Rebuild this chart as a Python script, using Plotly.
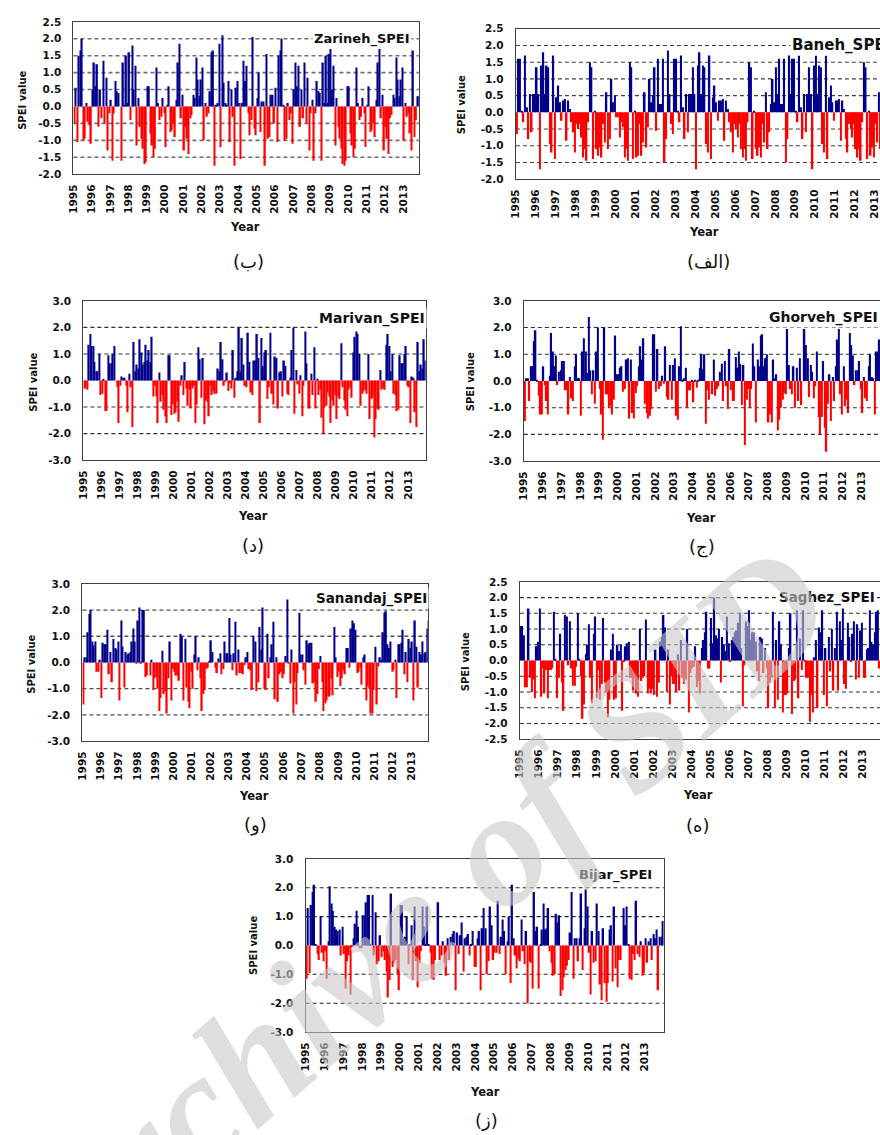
import plotly.graph_objects as go

# ---------------- data ----------------
years = list(range(1995, 2014))
year_labels = [str(y) for y in years]

zarineh_spei = [
    -0.5, 0.55, -1.05, 1.5, 1.65, 2.0, -1.0, -0.95, 0.1, -0.45, -0.55, -1.1,
    0.5, 1.3, 0.6, 1.25, -0.6, 0.5, -0.35, 1.35, -0.5, 0.85, -1.3, -0.2,
    0.2, -1.6, -0.2, 0.75, 0.45, 0.4, 0.0, -1.6, 1.3, 0.05, 1.5, 0.1,
    1.6, -0.4, 1.8, 0.5, 1.2, -1.15, 0.25, -0.6, -0.95, -1.25, -1.7, -1.65,
    0.6, 0.6, -0.8, -1.15, -1.5, -1.25, 1.15, 0.1, -0.4, -0.3, 0.25, -0.2,
    -1.2, 0.05, 0.6, -0.75, -0.7, -0.5, -0.9, 0.2, 1.3, 1.85, -0.35, 0.35,
    -1.3, -0.6, -0.95, -1.4, -0.35, -0.25, 0.35, 0.25, 1.45, 0.8, 0.3, 0.8,
    1.15, -1.0, 0.1, -0.3, -0.2, 0.45, 1.6, 1.65, -1.75, 0.05, 0.1, 1.85,
    -1.2, 2.1, 0.7, 0.1, 0.05, 0.75, -1.05, 0.5, -0.3, -1.75, 0.55, 0.75,
    0.1, -1.55, 0.1, 1.35, 0.75, 1.2, -0.2, -0.85, -0.4, 2.05, -0.65, -0.85,
    0.25, 1.0, -0.75, 0.15, 0.15, -1.75, 1.55, -0.95, -0.9, 0.35, 0.35, -0.5,
    0.55, -1.05, 1.5, 1.65, 2.0, 0.05, -1.0, -0.95, 0.1, -0.4, -0.2, -1.1,
    0.5, 1.3, 0.6, 1.2, -0.6, 0.5, -0.35, 1.3, -0.5, 0.85, -1.3, -0.2,
    0.2, -1.6, -0.2, 0.75, 0.45, 0.4, -1.6, 1.3, 0.1, 1.5, 0.1, 1.55,
    1.7, 0.5, 1.2, -1.15, 0.25, -0.6, -0.95, -1.25, -1.7, -1.75, -1.6, 0.6,
    0.6, -0.8, -1.15, -1.5, -1.25, 1.15, 0.1, -0.4, -0.3, 0.25, -0.2, -1.2,
    0.05, 0.6, -0.75, -0.7, -0.5, -0.9, 0.2, 1.3, 1.7, -0.35, 0.35, -1.3,
    -0.6, -0.95, -1.4, -0.35, -0.25, 0.35, 0.25, 1.45, 0.8, 0.3, 0.8, 1.15,
    -1.0, 0.1, -0.3, -0.2, -0.8, -1.3, 1.65, -0.9, -0.4, 0.3, 0.3, 1.85,
]

baneh_spei = [
    -0.65, 1.6, 1.6, 0.05, -0.3, 1.7, 0.15, -0.8, 0.55, -0.6, 0.55, 0.55,
    1.35, 0.55, -1.7, 1.4, 1.8, 0.55, 1.4, 1.35, -0.95, -1.2, 1.7, -1.4,
    0.45, 0.8, 0.3, -0.25, 0.35, 0.4, -0.85, 0.35, 0.1, -0.3, -0.6, -1.2,
    -0.35, -0.5, -0.35, -0.75, -1.35, -1.1, -1.45, -0.3, 1.5, 1.35, -1.4, 0.05,
    -1.1, -1.3, -1.05, -1.35, -0.35, -0.9, 0.6, -1.1, -0.8, 1.0, 0.3, 0.5,
    -0.15, -0.15, -0.75, -0.3, -0.45, -1.35, -1.1, -1.45, 1.5, 1.35, -1.4, 0.05,
    -1.35, -1.3, -0.35, -1.3, -0.9, 0.6, -1.05, -0.45, 1.0, 0.3, 0.5, 1.35,
    -0.55, 1.6, 0.25, 0.25, 1.6, -1.5, -0.8, 1.85, 0.55, -0.35, -0.65, 1.6,
    1.6, 0.05, -0.3, 1.7, 0.15, -0.8, 0.55, -0.6, 0.55, 0.55, 1.35, 0.55,
    -1.7, 1.4, 1.8, 0.55, 1.4, 1.35, -0.95, -1.2, 1.7, -1.4, 0.45, 0.8,
    0.3, -0.25, 0.35, 0.35, 0.4, -0.85, 0.35, 0.1, -0.3, -0.6, -1.2, -0.35,
    -0.5, -0.75, -0.35, -1.1, -1.35, -1.1, -1.45, -0.3, 1.5, 1.35, -1.4, 0.05,
    -1.1, -1.3, -1.05, -1.35, -0.35, -0.9, 0.6, -1.1, -0.6, 0.25, 1.0, 0.3,
    1.35, 0.55, 1.6, 0.25, 0.25, 1.6, -1.5, -0.8, 1.7, 0.55, 1.6, 1.6,
    0.05, -0.3, 1.7, 0.15, -0.8, 0.55, -0.6, 0.55, 1.35, 0.55, -1.7, 1.4,
    1.7, 0.55, 1.4, 1.35, -0.95, -1.2, 1.7, -1.4, 0.45, 0.8, 0.3, -0.25,
    0.35, 0.35, 0.4, -0.85, 0.35, 0.1, -0.8, -1.2, -0.35, -0.5, -0.75, -0.35,
    -1.1, -1.35, -1.1, -1.45, -0.3, 1.5, 1.35, -1.4, 0.05, -1.3, -1.05, -1.35,
    -0.35, -0.9, 0.6, -1.1, -0.8, 1.0, 0.3, 0.5, -0.15, -0.75, -0.3, -0.45,
]

marivan_spei = [
    -0.3, -0.3, -0.35, 1.35, 1.75, 1.3, 1.3, 0.7, 0.35, 0.35, 1.0, -0.55,
    -0.5, 0.05, -1.15, -1.15, 0.95, 0.65, 0.65, 1.0, 1.3, 0.0, -0.25, -1.6,
    -0.2, 0.15, 0.1, 0.1, -0.2, -1.2, 0.25, -0.25, -1.75, 1.45, 0.35, 0.6,
    0.45, 1.55, 1.05, 0.6, 0.7, 1.35, 0.75, 1.15, 0.7, 1.65, -0.6, -0.2,
    -0.6, -1.6, 0.3, -0.8, -0.55, -1.1, -1.35, -1.6, 0.95, 0.95, -1.3, -0.9,
    -1.25, -1.2, -0.8, -1.55, -0.2, 0.2, -0.55, 0.7, -0.3, -0.95, -0.35, -1.05,
    -0.3, -0.2, -1.6, -0.9, 1.25, 0.8, -0.65, 0.85, -1.65, -0.75, -0.8, -1.35,
    -0.2, -0.55, -0.4, -0.5, -0.5, 0.45, 0.35, 1.45, 0.8, -0.2, -0.05, 0.3,
    -0.4, -0.1, -0.3, 1.15, -0.65, 0.1, 0.35, 2.0, 0.35, 1.6, 0.6, -0.2,
    -0.25, 1.8, 0.7, -0.45, -0.55, 0.75, 0.75, 1.75, 0.85, -1.6, 1.6, 0.55,
    1.05, 1.15, -0.7, -0.25, 1.8, -0.5, -0.9, 0.9, 0.85, -1.05, 0.3, 0.35,
    -0.6, 0.75, 0.55, -0.5, -0.55, 0.1, 1.15, 2.0, -1.25, 0.4, -0.15, -0.5,
    0.2, -1.35, -0.2, 1.85, 0.65, -1.05, -1.05, 0.25, -0.55, 1.25, -1.05, 0.05,
    -0.55, -0.35, -1.4, -2.0, -1.0, -0.95, -0.45, -0.6, -1.6, -0.75, -0.95, -0.55,
    -1.45, -0.6, -0.7, 1.4, -0.25, -0.75, -1.1, -1.35, -0.35, -0.25, -0.65, 1.05,
    1.65, 1.85, 1.75, 1.0, -0.95, -0.5, -0.4, -0.35, -0.5, 1.0, -1.45, -0.7,
    -0.65, -2.15, -1.45, -1.05, -1.1, 0.4, -0.35, -0.3, -0.35, 1.35, 1.75, 1.3,
    0.35, 1.0, -0.5, -0.55, -1.15, -1.1, 0.95, 0.65, 0.65, 1.0, 1.3, -0.2,
    -0.25, -1.6, 0.15, 0.1, -1.2, -1.75, 1.45, 0.35, 0.6, 0.45, 1.55, 0.75,
]

ghorveh_spei = [
    -1.5, 0.1, 0.1, -0.75, 0.55, 0.55, 1.5, 1.9, 0.05, -0.55, -1.25, -1.25,
    0.55, -0.15, -0.75, -1.25, 0.2, 1.8, 1.1, 0.55, 0.95, -0.15, 0.35, 0.4,
    0.75, 0.75, -0.35, -0.35, -1.25, 0.15, -0.65, -0.75, 0.55, 1.0, 0.1, 0.1,
    -1.3, 1.1, 1.6, 1.1, 0.3, 2.4, 0.4, -0.5, 0.4, -0.85, 1.1, 2.0,
    -0.3, -1.25, -2.2, 2.0, -0.5, -0.5, -1.0, -0.95, -1.25, -0.7, 1.7, 0.25,
    0.25, 0.5, 0.55, -0.4, -0.3, 0.8, 0.85, -1.4, 0.8, -1.2, -1.4, -0.45,
    -0.2, 0.55, 1.3, 0.8, 1.6, -0.85, -1.2, -1.4, -1.3, -1.05, 1.75, 1.75,
    -0.4, 1.2, -0.3, -0.2, 0.2, -0.1, 1.3, -0.6, -0.7, 0.6, -0.7, 0.6,
    0.85, -1.3, -1.45, 0.55, 2.05, 0.05, 0.1, 0.5, -1.0, -0.35, -0.35, 0.05,
    -0.8, 0.05, -0.25, 0.05, 0.5, 1.0, 0.45, 1.0, -1.6, -0.35, -0.7, 0.0,
    -0.5, 0.8, -0.55, -0.3, -0.2, 0.35, 0.65, -0.75, 0.75, -0.2, -1.05, 1.2,
    -0.35, -0.75, -0.75, 0.9, 0.5, 1.1, 0.65, -0.9, 0.6, -2.4, -0.7, -0.3,
    -1.0, -0.3, 1.4, 0.55, -1.55, 0.8, 0.55, 1.7, 1.75, 0.55, 0.85, 1.0,
    -1.55, -1.25, -1.55, 0.8, 0.1, 0.25, -1.85, -1.45, -1.0, -0.7, -0.45, -0.5,
    1.95, 0.6, -0.3, -0.5, 0.55, -1.0, 0.5, -0.75, 0.85, -0.9, 0.0, 1.95,
    1.35, 0.85, -0.6, 0.6, 0.35, -0.65, -0.2, 1.1, -1.35, -2.0, -1.35, 0.75,
    -1.75, -2.65, -0.85, 0.25, -1.5, 0.15, -0.75, 0.55, 1.55, 1.95, -0.5, -1.25,
    0.55, -0.95, -0.7, -1.2, 1.8, 1.35, 0.95, -0.15, 0.4, 0.4, 0.75, -0.3,
    -1.2, 0.15, -0.65, -0.75, 0.55, 1.0, 0.15, 0.1, -1.25, 1.1, 1.1, 1.55,
]

sanandaj_spei = [
    -1.6, 0.2, 0.2, 1.15, 1.85, 2.0, 0.8, 0.65, 0.8, -0.35, -0.35, 0.1,
    -1.35, 0.75, 0.7, 0.7, 1.25, -0.45, 0.4, -0.75, 0.9, 0.55, 0.5, 0.8,
    -1.45, 1.6, 0.6, -0.95, 0.4, 0.3, 0.35, 0.4, 0.8, 1.3, 0.8, -0.05,
    1.6, 2.1, -0.05, 2.0, 2.0, -0.55, -0.5, 0.0, -0.5, 0.1, -1.05, -0.6,
    -0.55, -1.0, -1.85, -1.35, 0.45, -1.2, -1.1, -1.95, -0.6, 0.8, -1.45, -0.25,
    -0.35, -0.5, -0.5, -0.7, 1.1, 1.0, -1.45, 0.9, -0.95, -1.5, -1.75, -0.35,
    -1.0, 0.3, 1.0, -0.3, 0.2, -0.6, -1.85, -1.2, -1.05, -0.25, -0.2, 0.05,
    0.85, 0.4, 0.0, -0.2, -0.4, 0.15, 0.35, -0.45, -0.25, 0.8, 0.35, 0.35,
    1.7, 0.3, -0.3, 0.35, 1.55, -0.5, 0.5, -0.4, -0.4, -0.45, -0.1, 0.2,
    0.4, -0.25, -0.3, -1.05, 1.0, 0.8, -1.1, -0.75, 1.35, 0.5, 2.1, -1.0,
    -1.05, 1.1, -0.6, 0.2, 0.7, 1.55, -1.4, 0.2, -1.5, -0.45, -0.35, -0.6,
    -0.45, 0.25, 2.4, -0.05, -0.8, 0.5, -1.95, -0.75, -1.6, -0.4, 1.9, 0.3,
    0.3, -0.3, -0.85, 0.85, 0.7, 0.75, 0.75, -0.8, -0.75, -1.5, -1.2, -0.25,
    0.25, -0.75, -1.85, -1.55, -1.45, -1.3, -1.3, -0.6, -1.25, 1.35, 0.2, -0.55,
    -0.35, -0.9, -0.6, -0.3, -0.45, 0.55, 0.55, -0.2, 1.3, 1.6, 1.5, 1.25,
    -0.4, -0.35, -0.2, -0.85, 0.2, 0.3, -1.45, -0.9, -1.0, -1.95, -1.95, -1.05,
    0.6, -1.6, -0.15, 0.2, 0.1, 1.15, 1.9, 1.95, 0.7, 0.55, 0.8, -0.35,
    -0.3, 0.1, -1.35, 0.7, 0.7, 0.75, 1.25, -0.45, 0.4, -0.75, 0.9, 0.55,
    0.8, -1.45, 1.6, 0.6, -0.95, 0.4, 0.3, 0.8, 0.35, 0.4, 1.3, 1.6,
]

saghez_spei = [
    1.1, 1.1, 0.8, -0.85, -0.85, 1.65, -0.55, -1.0, -0.6, -1.2, 0.45, 0.6,
    1.65, -1.15, -0.25, -1.05, -0.3, -1.2, -0.3, -0.3, -0.25, 1.55, 0.05, -1.2,
    -0.55, 0.85, -0.7, -1.6, 1.45, 1.4, -0.15, 1.25, -0.25, -0.8, -0.8, -0.2,
    1.5, 0.05, -0.5, -1.85, -1.4, 0.2, 0.5, 1.15, -0.55, -1.35, 0.85, 1.4,
    -1.2, -0.3, -1.25, -0.75, 1.35, -0.7, -1.0, -1.8, -1.25, 0.35, 0.85, -1.25,
    -1.2, 0.5, 0.3, 0.5, -1.6, -0.05, 0.45, 0.55, 0.6, -0.55, -0.55, -0.95,
    -0.55, -1.05, -1.15, 1.0, -0.65, -0.55, -0.5, 1.3, -1.05, -0.9, -1.05, -0.9,
    -1.1, 0.35, -1.15, -0.7, 0.6, 0.75, 1.45, 1.05, -1.0, 0.35, -1.4, -0.5,
    -0.75, -0.75, -1.0, 0.2, -0.95, 0.65, -0.55, -0.75, -0.6, 1.0, -1.65, -0.4,
    -0.25, -0.2, 0.45, -0.85, -0.65, -1.05, 0.4, 0.65, 0.9, 1.55, -0.25, -0.25,
    1.35, 0.55, 2.0, 0.8, 0.7, 1.0, -0.7, 0.75, 0.5, 0.3, 1.4, 0.55,
    -0.05, 0.65, 0.75, 0.9, 0.95, 1.2, 1.5, 0.4, -1.45, -0.15, 1.25, 1.1,
    1.6, 0.65, 0.9, 0.9, 0.6, -0.35, -0.65, 0.75, 0.7, -0.4, 0.4, -0.25,
    -1.5, -0.7, -0.55, 1.55, -1.5, 0.65, -1.25, 1.25, 0.5, -1.65, -1.1, -1.1,
    -1.05, 0.4, 1.5, -1.7, -0.65, -0.6, 1.6, -1.2, 0.7, -0.3, 1.6, -0.05,
    -0.55, -0.55, -1.95, -1.1, -1.65, 0.1, 0.65, -1.5, 1.05, 0.9, 1.6, -1.1,
    0.4, -1.45, 0.75, -0.35, 1.0, -0.95, 0.4, 1.55, -0.95, 1.25, 0.65, 1.65,
    -0.75, -0.9, 1.2, 0.75, -0.05, 0.85, 1.25, -0.6, 1.15, -0.55, 0.95, 1.2,
    -0.55, -0.55, 0.35, 0.4, 1.6, 0.6, 0.5, 0.9, 1.55, 1.6, -0.25, -0.2,
]

bijar_spei = [
    -1.15, 1.3, -0.95, 1.4, 1.85, 2.1, 0.05, -0.3, -0.5, 1.0, -0.25, -0.55,
    -0.2, -1.15, 0.15, 2.05, 1.45, 1.2, 0.65, 0.55, 0.5, 0.55, -0.35, 0.65,
    -0.3, -1.5, -0.55, -0.35, -1.7, -0.05, 0.25, 0.75, 1.2, 0.65, -0.1, -0.1,
    1.05, 1.05, 1.5, 1.75, 1.75, 0.05, 1.75, -0.35, 1.15, -0.65, -0.55, 0.35,
    -0.4, -0.2, -0.5, -0.9, -1.8, -1.2, 1.8, -0.75, -0.6, -0.5, -1.0, -1.55,
    1.4, 1.4, 0.25, 0.3, 1.0, -0.65, 0.05, 0.7, -1.2, 1.35, -0.55, -1.45,
    -0.6, -0.2, 1.35, 0.65, 0.05, 1.35, 0.05, -0.25, -1.15, -1.2, -0.5, 0.0,
    1.5, -0.5, -0.35, 0.15, -0.6, -1.05, 0.25, -0.5, 0.3, 0.4, 0.5, -1.55,
    0.45, -0.3, 0.35, 0.8, -0.9, 0.25, 0.3, 0.4, -0.35, 0.05, 0.5, -0.75,
    -0.75, 0.25, 0.5, -1.55, 0.6, 1.3, 0.6, -1.0, -0.55, 1.35, 0.7, -0.5,
    -0.25, -0.25, 1.55, -0.3, 0.3, 0.9, 0.5, -1.0, 0.15, 1.0, -1.3, 2.1,
    0.25, -0.35, -0.8, -0.45, -0.55, 0.9, -0.2, -0.65, 0.5, -2.0, -0.55, -0.6,
    -1.5, 1.85, 0.5, 0.65, -1.5, 0.05, 0.55, 1.45, 0.55, 0.6, 1.3, -0.2,
    -0.6, -1.05, -1.0, 1.1, 0.8, 1.05, -1.75, -1.55, -1.1, -0.85, -0.7, -0.5,
    0.45, 1.85, -1.15, 0.25, 0.25, -0.55, 0.25, 1.8, -0.85, 0.6, 1.95, 1.35,
    -0.25, -1.7, 0.5, -0.6, -0.55, 1.45, 0.5, -1.35, -1.9, 0.6, -1.3, -1.95,
    -1.3, 0.55, 0.7, -1.25, 1.35, -0.8, -1.45, -0.5, -0.5, 0.0, 1.3, 0.7,
    1.35, 0.05, -1.15, -1.2, -0.3, -0.5, 1.55, -0.3, -0.4, 0.15, -1.05, -0.95,
    0.25, -0.6, 0.15, 0.25, -0.5, 0.4, 0.25, 0.55, -1.55, 0.3, 0.3, 0.85,
]

station_names = ["Zarineh_SPEI", "Baneh_SPEI", "Marivan_SPEI", "Ghorveh_SPEI",
                 "Sanandaj_SPEI", "Saghez_SPEI", "Bijar_SPEI"]
panel_labels = ["(ب)", "(الف)", "(د)", "(ج)", "(و)", "(ه)", "(ز)"]
station_values = [zarineh_spei, baneh_spei, marivan_spei, ghorveh_spei,
                  sanandaj_spei, saghez_spei, bijar_spei]

ticks_25 = [-2.0, -1.5, -1.0, -0.5, 0.0, 0.5, 1.0, 1.5, 2.0, 2.5]
ticks_3 = [-3.0, -2.0, -1.0, 0.0, 1.0, 2.0, 3.0]
ticks_s = [-2.5, -2.0, -1.5, -1.0, -0.5, 0.0, 0.5, 1.0, 1.5, 2.0, 2.5]

watermark_text = "Archive of SID"

# ---------------- layout geometry (pixels) ----------------
W, H = 880, 1135
panels = [
    dict(l=67, r=415, t=16, b=170, xend=2013.85, yt=ticks_25,
         grid=[-1.5, -1.0, -0.5, 0.5, 1.0, 1.5, 2.0], gc="#707070", gw=1.6,
         tx=307, ty=33, ts=13, ylx=16, yly=95, yrx=240, yry=223, plx=243, ply=258, box=True),
    dict(l=513, r=880, t=23, b=175, xend=2013.26, yt=ticks_25,
         grid=[-1.5, -1.0, -0.5, 0.5, 1.0, 1.5, 2.0], gc="#404040", gw=1.1,
         tx=789, ty=39, ts=15, ylx=459, yly=100, yrx=703, yry=228, plx=707, ply=258, box=False),
    dict(l=77, r=422, t=298, b=459, xend=2013.97, yt=ticks_3,
         grid=[-2.0, -1.0, 1.0, 2.0], gc="#303030", gw=1.1,
         tx=312, ty=316, ts=14, ylx=27, yly=380, yrx=248, yry=515, plx=248, ply=545, box=True),
    dict(l=521, r=880, t=298, b=460, xend=2013.98, yt=ticks_3,
         grid=[-2.0, -1.0, 1.0, 2.0], gc="#303030", gw=1.1,
         tx=766, ty=315, ts=14, ylx=468, yly=380, yrx=700, yry=517, plx=701, ply=547, box=False),
    dict(l=76, r=424, t=584, b=743, xend=2013.9, yt=ticks_3,
         grid=[-2.0, -1.0, 1.0, 2.0], gc="#505050", gw=1.3,
         tx=309, ty=599, ts=13.5, ylx=25, yly=665, yrx=249, yry=798, plx=250, ply=828, box=True),
    dict(l=517, r=880, t=582, b=741, xend=2013.9, yt=ticks_s,
         grid=[-2.0, -1.5, -1.0, -0.5, 0.5, 1.0, 1.5, 2.0], gc="#303030", gw=1.1,
         tx=776, ty=598, ts=13.5, ylx=463, yly=663, yrx=697, yry=797, plx=697, ply=828, box=False),
    dict(l=301, r=662, t=862, b=1037, xend=2014.0, yt=ticks_3,
         grid=[-2.0, -1.0, 1.0, 2.0], gc="#202020", gw=1.1,
         tx=575, ty=878, ts=13, ylx=249, yly=950, yrx=482, yry=1098, plx=483, ply=1126, box=True),
]

BLUE = "#00008b"
RED = "#ff0000"
FONT = "DejaVu Sans"
AX = "#404040"


def px(x):
    return x / W


def py(y):
    return 1 - y / H


fig = go.Figure()
shapes = []
annotations = []

for i, (name, vals, lab, p) in enumerate(zip(station_names, station_values,
                                              panel_labels, panels), start=1):
    xs = [years[0] + (k + 0.5) / 12 for k in range(len(vals))]
    colors = [BLUE if v >= 0 else RED for v in vals]
    xa = "x" if i == 1 else f"x{i}"
    ya = "y" if i == 1 else f"y{i}"
    fig.add_trace(go.Bar(x=xs, y=vals, marker=dict(color=colors, line=dict(width=0)),
                         xaxis=xa, yaxis=ya, showlegend=False, hoverinfo="x+y"))
    key = "" if i == 1 else str(i)
    fig.layout["xaxis" + key] = dict(
        domain=[px(p["l"]), px(p["r"])], range=[years[0], p["xend"]],
        anchor=ya, tickmode="array", tickvals=years, ticktext=year_labels,
        tickangle=-90, tickfont=dict(family=FONT, size=10.5, color="#111", weight="bold"),
        ticks="", ticklabelstandoff=5, ticklabeloverflow="allow",
        showline=True, linecolor=AX, linewidth=1.3,
        mirror=True, showgrid=False, zeroline=False, fixedrange=True)
    yt = p["yt"]
    fig.layout["yaxis" + key] = dict(
        domain=[py(p["b"]), py(p["t"])], range=[yt[0], yt[-1]], anchor=xa,
        tickmode="array", tickvals=yt, ticktext=[f"{v:.1f}" for v in yt],
        tickfont=dict(family=FONT, size=10.5, color="#111", weight="bold"),
        ticks="", ticklabelstandoff=9, ticklabeloverflow="allow",
        showline=True, linecolor=AX, linewidth=1.3,
        mirror=p["box"], showgrid=False, zeroline=False, fixedrange=True)
    for g in p["grid"]:
        shapes.append(dict(type="line", xref=xa + " domain", x0=0, x1=1,
                           yref=ya, y0=g, y1=g, layer="below",
                           line=dict(color=p["gc"], width=p["gw"], dash="4px,3px")))
    annotations.append(dict(text=name, xref="paper", yref="paper", x=px(p["tx"]),
                            y=py(p["ty"]), xanchor="left", yanchor="middle",
                            showarrow=False, bgcolor="white", borderpad=1,
                            font=dict(family=FONT, size=p["ts"], color="#111",
                                      weight="bold")))
    annotations.append(dict(text="SPEI value", xref="paper", yref="paper",
                            x=px(p["ylx"]), y=py(p["yly"]), textangle=-90,
                            xanchor="center", yanchor="middle", showarrow=False,
                            font=dict(family=FONT, size=10, color="#111", weight="bold")))
    annotations.append(dict(text="Year", xref="paper", yref="paper",
                            x=px(p["yrx"]), y=py(p["yry"]), xanchor="center",
                            yanchor="middle", showarrow=False,
                            font=dict(family=FONT, size=11.5, color="#111", weight="bold")))
    annotations.append(dict(text=lab, xref="paper", yref="paper",
                            x=px(p["plx"]), y=py(p["ply"]), xanchor="center",
                            yanchor="middle", showarrow=False,
                            font=dict(family=FONT, size=18, color="#111")))

# faint diagonal watermark across the page (cut by the page edge, as in the source)
annotations.append(dict(text=watermark_text, xref="paper", yref="paper",
                        x=px(412), y=py(922), xanchor="center", yanchor="middle",
                        textangle=-41, showarrow=False,
                        font=dict(family="Liberation Serif", size=165,
                                  color="rgba(200,200,200,0.6)",
                                  weight="bold", style="italic")))

fig.update_layout(
    width=W, height=H, margin=dict(l=0, r=0, t=0, b=0),
    paper_bgcolor="white", plot_bgcolor="white",
    bargap=0.04, shapes=shapes, annotations=annotations,
)

fig.write_html("out.html", config={"displayModeBar": False},
               post_script="document.body.style.margin='0px';")
